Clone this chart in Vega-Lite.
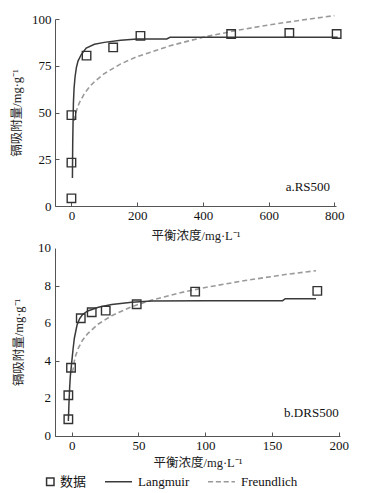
{
  "$schema": "https://vega.github.io/schema/vega-lite/v6.json",
  "padding": {"left": 10, "top": 12, "right": 5, "bottom": 5},
  "spacing": 0,
  "config": {
    "font": "Liberation Serif",
    "view": {"stroke": null},
    "axis": {
      "grid": false,
      "domainColor": "#555",
      "domainWidth": 1,
      "tickColor": "#555",
      "tickSize": -4,
      "tickWidth": 1,
      "labelFont": "Liberation Serif",
      "labelFontSize": 13,
      "labelColor": "#111",
      "labelFlush": false,
      "labelOverlap": false,
      "titleFont": "Liberation Serif, Noto Sans CJK SC",
      "titleFontSize": 12.5,
      "titleFontWeight": "normal",
      "titleColor": "#222"
    }
  },
  "vconcat": [
    {
      "width": 281,
      "height": 187,
      "layer": [
        {
          "data": {"values": [
            {"c": 8, "q": 45.5}, {"c": 10, "q": 47.3}, {"c": 15, "q": 50.8}, {"c": 20, "q": 53.4},
            {"c": 25, "q": 55.5}, {"c": 40, "q": 60.3}, {"c": 55, "q": 63.7}, {"c": 70, "q": 66.5},
            {"c": 100, "q": 70.8}, {"c": 150, "q": 76.0}, {"c": 200, "q": 79.9}, {"c": 300, "q": 85.7},
            {"c": 400, "q": 90.2}, {"c": 500, "q": 93.8}, {"c": 600, "q": 96.8}, {"c": 700, "q": 99.4},
            {"c": 800, "q": 101.8}
          ]},
          "mark": {"type": "line", "color": "#9a9a9a", "strokeWidth": 1.6, "strokeDash": [5, 3], "clip": false},
          "encoding": {
            "x": {"field": "c", "type": "quantitative", "scale": {"domain": [-50, 805], "nice": false, "zero": false},
              "axis": {"values": [0, 100, 200, 300, 400, 500, 600, 700, 800], "labelExpr": "datum.value % 200 == 0 ? datum.label : ''", "labelOverlap": false, "labelPadding": 7, "title": "平衡浓度/mg·L⁻¹", "titlePadding": 7}},
            "y": {"field": "q", "type": "quantitative", "scale": {"domain": [0, 100], "nice": false},
              "axis": {"values": [0, 12.5, 25, 37.5, 50, 62.5, 75, 87.5, 100], "labelExpr": "datum.value % 25 == 0 ? datum.label : ''", "labelOverlap": false, "labelPadding": 8, "title": "镉吸附量/mg·g⁻¹", "titleX": -39, "titleY": 93.5, "titleBaseline": "middle", "titleAlign": "center"}}
          }
        },
        {
          "data": {"values": [
            {"c": 3, "q": 15}, {"c": 3.5, "q": 25}, {"c": 4, "q": 35}, {"c": 5, "q": 45}, {"c": 6, "q": 55},
            {"c": 8, "q": 63}, {"c": 11, "q": 69}, {"c": 15, "q": 74}, {"c": 20, "q": 77.5}, {"c": 30, "q": 81},
            {"c": 45, "q": 84.5}, {"c": 70, "q": 86.5}, {"c": 100, "q": 87.5}, {"c": 150, "q": 88.6},
            {"c": 200, "q": 89.3}, {"c": 290, "q": 89.3}, {"c": 300, "q": 90.2}, {"c": 810, "q": 90.2}
          ]},
          "mark": {"type": "line", "color": "#3a3a3a", "strokeWidth": 1.5, "clip": false},
          "encoding": {
            "x": {"field": "c", "type": "quantitative"},
            "y": {"field": "q", "type": "quantitative"}
          }
        },
        {
          "data": {"values": [
            {"c": 0, "q": 4.1}, {"c": 0, "q": 23.2}, {"c": 0, "q": 48.6}, {"c": 46, "q": 80.4},
            {"c": 127, "q": 84.8}, {"c": 210, "q": 91}, {"c": 486, "q": 92}, {"c": 663, "q": 92.5},
            {"c": 807, "q": 92}
          ]},
          "mark": {"type": "point", "shape": "square", "size": 72, "filled": false, "stroke": "#333", "strokeWidth": 1.4, "opacity": 1, "clip": false},
          "encoding": {
            "x": {"field": "c", "type": "quantitative"},
            "y": {"field": "q", "type": "quantitative"}
          }
        },
        {
          "data": {"values": [{}]},
          "mark": {"type": "text", "align": "right", "baseline": "middle", "fontSize": 13, "font": "Liberation Serif", "color": "#111"},
          "encoding": {
            "x": {"datum": 787},
            "y": {"datum": 10},
            "text": {"value": "a.RS500"}
          }
        }
      ]
    },
    {
      "width": 285,
      "height": 188,
      "layer": [
        {
          "data": {"values": [
            {"c": 0, "q": 3.4}, {"c": 1, "q": 3.53}, {"c": 2, "q": 3.99}, {"c": 3, "q": 4.28}, {"c": 5, "q": 4.68},
            {"c": 8, "q": 5.08}, {"c": 12, "q": 5.45}, {"c": 20, "q": 5.96}, {"c": 30, "q": 6.40}, {"c": 45, "q": 6.88},
            {"c": 60, "q": 7.23}, {"c": 80, "q": 7.60}, {"c": 100, "q": 7.90}, {"c": 130, "q": 8.27},
            {"c": 160, "q": 8.59}, {"c": 183, "q": 8.79}
          ]},
          "mark": {"type": "line", "color": "#9a9a9a", "strokeWidth": 1.6, "strokeDash": [5, 3], "clip": false},
          "encoding": {
            "x": {"field": "c", "type": "quantitative", "scale": {"domain": [-12.5, 201], "nice": false, "zero": false},
              "axis": {"values": [0, 25, 50, 75, 100, 125, 150, 175, 200], "labelExpr": "datum.value % 50 == 0 ? datum.label : ''", "labelOverlap": false, "labelPadding": 7, "title": "平衡浓度/mg·L⁻¹", "titlePadding": 4}},
            "y": {"field": "q", "type": "quantitative", "scale": {"domain": [0, 10], "nice": false},
              "axis": {"values": [0, 1, 2, 3, 4, 5, 6, 7, 8, 9, 10], "labels": false, "title": "镉吸附量/mg·g⁻¹", "titleX": -37, "titleY": 94, "titleBaseline": "middle", "titleAlign": "center"}}
          }
        },
        {
          "data": {"values": [
            {"q": 0}, {"q": 2}, {"q": 4}, {"q": 6}, {"q": 8}, {"q": 10}
          ]},
          "mark": {"type": "text", "align": "right", "baseline": "middle", "dx": -4, "fontSize": 13, "font": "Liberation Serif", "color": "#111", "clip": false},
          "encoding": {
            "x": {"datum": -12.5},
            "y": {"field": "q", "type": "quantitative"},
            "text": {"field": "q", "type": "quantitative"}
          }
        },
        {
          "data": {"values": [
            {"c": -2.5, "q": 0.8}, {"c": -2, "q": 1.8}, {"c": -1.5, "q": 2.6}, {"c": -1, "q": 3.2}, {"c": 0, "q": 3.9},
            {"c": 1, "q": 4.6}, {"c": 2, "q": 5.2}, {"c": 4, "q": 5.9}, {"c": 6, "q": 6.25}, {"c": 8, "q": 6.45},
            {"c": 12, "q": 6.65}, {"c": 20, "q": 6.85}, {"c": 30, "q": 7.0}, {"c": 45, "q": 7.12}, {"c": 60, "q": 7.18},
            {"c": 100, "q": 7.2}, {"c": 158, "q": 7.2}, {"c": 160, "q": 7.3}, {"c": 183, "q": 7.3}
          ]},
          "mark": {"type": "line", "color": "#3a3a3a", "strokeWidth": 1.5, "clip": false},
          "encoding": {
            "x": {"field": "c", "type": "quantitative"},
            "y": {"field": "q", "type": "quantitative"}
          }
        },
        {
          "data": {"values": [
            {"c": -2.5, "q": 0.89}, {"c": -2.5, "q": 2.17}, {"c": -0.5, "q": 3.63},
            {"c": 6.8, "q": 6.26}, {"c": 15, "q": 6.58}, {"c": 25.5, "q": 6.67},
            {"c": 48.7, "q": 7.01}, {"c": 92.5, "q": 7.68}, {"c": 184, "q": 7.72}
          ]},
          "mark": {"type": "point", "shape": "square", "size": 72, "filled": false, "stroke": "#333", "strokeWidth": 1.4, "opacity": 1, "clip": false},
          "encoding": {
            "x": {"field": "c", "type": "quantitative"},
            "y": {"field": "q", "type": "quantitative"}
          }
        },
        {
          "data": {"values": [{"s": "数据"}]},
          "mark": {"type": "point", "size": 729, "filled": false, "strokeWidth": 1.4, "opacity": 0, "clip": false},
          "encoding": {
            "shape": {"field": "s", "type": "nominal",
              "scale": {"domain": ["数据", "Langmuir", "Freundlich"], "range": ["M0.45,-0.27H1V0.27H0.45Z", "M-1,0H1", "M-1,0H-0.62M-0.42,0H-0.04M0.16,0H0.54M0.74,0H1"]},
              "legend": {"title": null, "orient": "none", "legendX": -29, "legendY": 448, "direction": "horizontal", "symbolSize": 729, "symbolStrokeWidth": 1.5, "symbolFillColor": "transparent", "symbolOpacity": 1, "labelFont": "Liberation Serif, Noto Sans CJK SC", "labelFontSize": 13, "labelColor": "#111", "columnPadding": 15, "labelOffset": 5}},
            "stroke": {"field": "s", "type": "nominal",
              "scale": {"domain": ["数据", "Langmuir", "Freundlich"], "range": ["#333333", "#3a3a3a", "#9a9a9a"]},
              "legend": {"title": null}}
          }
        },
        {
          "data": {"values": [{}]},
          "mark": {"type": "text", "align": "right", "baseline": "middle", "fontSize": 13, "font": "Liberation Serif", "color": "#111"},
          "encoding": {
            "x": {"datum": 200},
            "y": {"datum": 1.2},
            "text": {"value": "b.DRS500"}
          }
        }
      ]
    }
  ]
}
